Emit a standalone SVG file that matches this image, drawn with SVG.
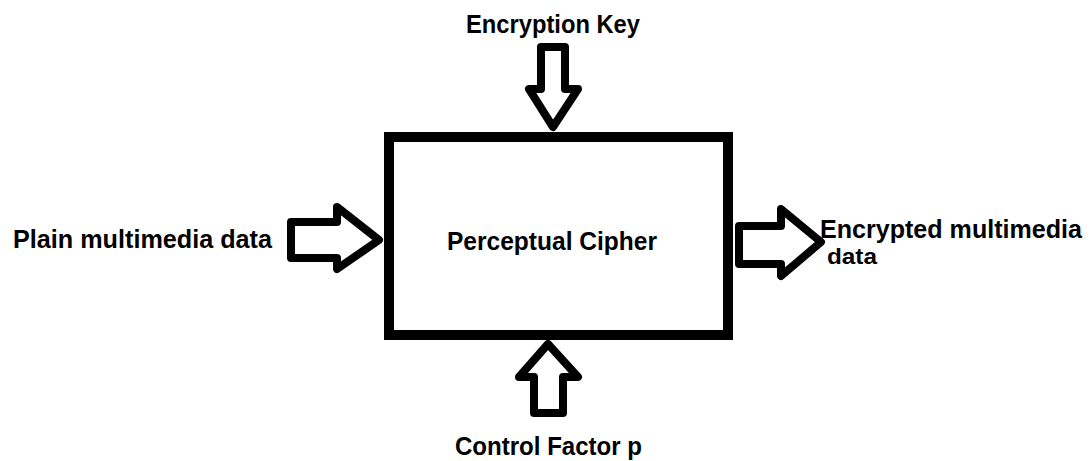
<svg xmlns="http://www.w3.org/2000/svg" width="1091" height="461" viewBox="0 0 1091 461">
  <style>
    .lbl { font-family: "Liberation Sans", Arial, sans-serif; font-weight: bold; font-size: 25px; fill: #000; }
    .small { font-size: 22px; }
    .box { fill: #fff; stroke: #000; stroke-width: 10; }
    .blk { fill: #fff; stroke: #000; stroke-width: 8; stroke-linejoin: round; }
  </style>
  <rect width="1091" height="461" fill="#fff"/>

  <!-- central process block -->
  <g id="cipher">
    <rect class="box" x="389" y="137" width="339" height="198"/>
    <text class="lbl" x="447" y="250" textLength="210" lengthAdjust="spacingAndGlyphs">Perceptual Cipher</text>
  </g>

  <!-- inputs and outputs -->
  <g id="key">
    <text class="lbl" x="466" y="33" textLength="174" lengthAdjust="spacingAndGlyphs">Encryption Key</text>
  </g>
  <g id="plain">
    <text class="lbl" x="13" y="248" textLength="259" lengthAdjust="spacingAndGlyphs">Plain multimedia data</text>
  </g>
  <g id="encrypted">
    <text class="lbl" x="820" y="238" textLength="262" lengthAdjust="spacingAndGlyphs">Encrypted multimedia</text>
    <text class="lbl small" x="827" y="264" textLength="50" lengthAdjust="spacingAndGlyphs">data</text>
  </g>
  <g id="control">
    <text class="lbl" x="455" y="455" textLength="187" lengthAdjust="spacingAndGlyphs">Control Factor p</text>
  </g>

  <!-- block arrows -->
  <g id="connectors">
    <polygon class="blk" points="541,47 565,47 565,89 578,89 553,127 529,89 541,89"/>
    <polygon class="blk" points="291,222 337,222 337,207 379,240 337,269 337,258 291,258"/>
    <polygon class="blk" points="739,226 781,226 781,209 821,242 781,276 781,264 739,264"/>
    <polygon class="blk" points="548,344 578,377 563,377 563,413 534,413 534,377 519,377"/>
  </g>
</svg>
